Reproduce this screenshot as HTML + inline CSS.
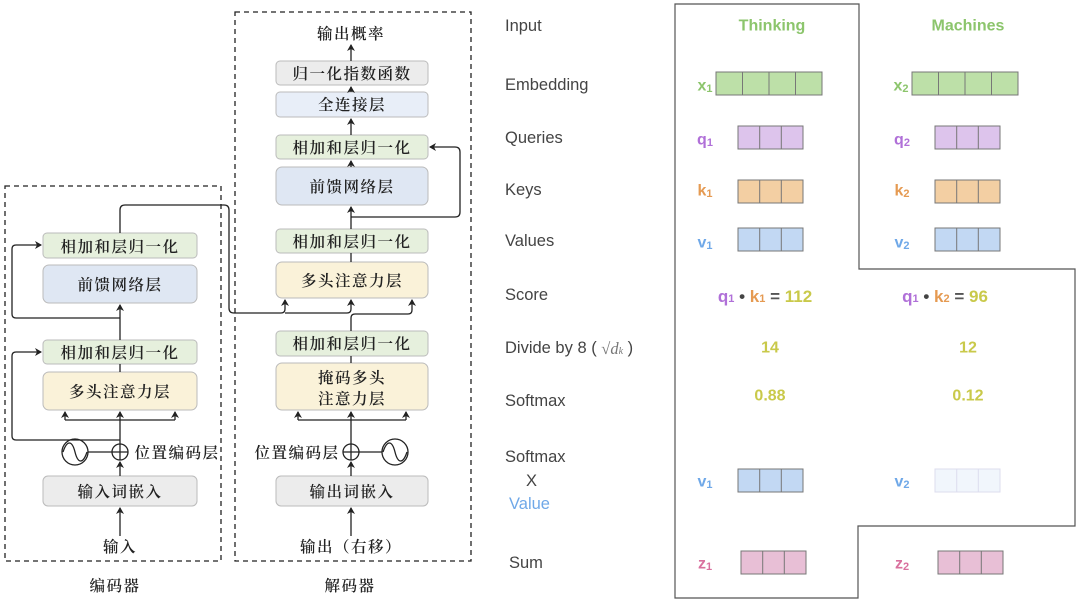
<!DOCTYPE html>
<html><head><meta charset="utf-8"><style>
html,body{margin:0;padding:0;background:#fff;}
svg{display:block}
.cn{font-family:"Noto Serif CJK SC","Liberation Serif",serif;font-size:15.5px;font-weight:600;letter-spacing:1.5px;fill:#222;text-anchor:middle;dominant-baseline:central}
.en{font-family:"Liberation Sans","DejaVu Sans",sans-serif;font-size:16.5px;fill:#444;dominant-baseline:central}
.b{font-family:"Liberation Sans",sans-serif;font-weight:bold;font-size:16px;dominant-baseline:central;text-anchor:middle}
</style></head><body>
<svg width="1080" height="605" viewBox="0 0 1080 605" xmlns="http://www.w3.org/2000/svg">
<defs><marker id="a" markerWidth="8" markerHeight="8" refX="6" refY="4" orient="auto" markerUnits="userSpaceOnUse"><path d="M0,0 L7,4 L0,8 L2,4z" fill="#222"/></marker></defs>
<g fill="none" stroke="#222" stroke-width="1.3" stroke-dasharray="5,4">
<rect x="5" y="186" width="216" height="375"/>
<rect x="235" y="12" width="236" height="549"/>
</g>
<g stroke="#bbb" stroke-width="1">
<rect x="43" y="233" width="154" height="25" rx="4" fill="#e6f0dd"/>
<rect x="43" y="265" width="154" height="38" rx="6" fill="#dfe7f3"/>
<rect x="43" y="340" width="154" height="24" rx="4" fill="#e6f0dd"/>
<rect x="43" y="372" width="154" height="38" rx="6" fill="#faf2d9"/>
<rect x="43" y="476" width="154" height="30" rx="5" fill="#ececec"/>
<rect x="276" y="61" width="152" height="24" rx="4" fill="#ececec"/>
<rect x="276" y="92" width="152" height="25" rx="4" fill="#e8eef8"/>
<rect x="276" y="135" width="152" height="24" rx="4" fill="#e6f0dd"/>
<rect x="276" y="167" width="152" height="38" rx="6" fill="#dfe7f3"/>
<rect x="276" y="229" width="152" height="24" rx="4" fill="#e6f0dd"/>
<rect x="276" y="262" width="152" height="36" rx="6" fill="#faf2d9"/>
<rect x="276" y="331" width="152" height="25" rx="4" fill="#e6f0dd"/>
<rect x="276" y="363" width="152" height="47" rx="6" fill="#faf2d9"/>
<rect x="276" y="476" width="152" height="30" rx="5" fill="#ececec"/>
</g>
<g class="cn">
<text x="120" y="246">相加和层归一化</text>
<text x="120" y="284">前馈网络层</text>
<text x="120" y="352">相加和层归一化</text>
<text x="120" y="391">多头注意力层</text>
<text x="120" y="491">输入词嵌入</text>
<text x="120" y="546">输入</text>
<text x="115" y="585">编码器</text>
<text x="177" y="452">位置编码层</text>
<text x="351" y="33">输出概率</text>
<text x="352" y="73">归一化指数函数</text>
<text x="352" y="104">全连接层</text>
<text x="352" y="147">相加和层归一化</text>
<text x="352" y="186">前馈网络层</text>
<text x="352" y="241">相加和层归一化</text>
<text x="352" y="280">多头注意力层</text>
<text x="352" y="343">相加和层归一化</text>
<text x="352" y="377">掩码多头</text>
<text x="352" y="398">注意力层</text>
<text x="352" y="491">输出词嵌入</text>
<text x="351" y="546">输出（右移）</text>
<text x="350" y="585">解码器</text>
<text x="297" y="452">位置编码层</text>
</g>
<g fill="none" stroke="#222" stroke-width="1.3">
<path d="M120,536 V508" marker-end="url(#a)"/>
<path d="M120,476 V462" marker-end="url(#a)"/>
<circle cx="120" cy="452" r="8"/><path d="M112,452H128M120,444V460"/>
<circle cx="75" cy="452" r="13"/><path d="M63,452 C67,440 72,440 75,452 C78,464 83,464 87,452"/>
<path d="M88,452H112"/>
<path d="M120,444 V412" marker-end="url(#a)"/>
<path d="M120,440 H16 Q12,440 12,436 V356 Q12,352 16,352 H41" marker-end="url(#a)"/>
<path d="M65,420 H175"/>
<path d="M65,420 V412" marker-end="url(#a)"/><path d="M175,420 V412" marker-end="url(#a)"/>
<path d="M120,372 V364"/>
<path d="M120,340 V305" marker-end="url(#a)"/>
<path d="M120,318 H16 Q12,318 12,314 V249 Q12,245 16,245 H41" marker-end="url(#a)"/>
<path d="M120,233 V210 Q120,205 125,205 H224 Q229,205 229,210 V308 Q229,313 234,313 H281 Q285,313 285,309 V300" marker-end="url(#a)"/>
<path d="M285,313 H347 Q351,313 351,309 V300" marker-end="url(#a)"/>
<path d="M351,536 V508" marker-end="url(#a)"/>
<path d="M351,476 V462" marker-end="url(#a)"/>
<circle cx="351" cy="452" r="8"/><path d="M343,452H359M351,444V460"/>
<circle cx="395" cy="452" r="13"/><path d="M383,452 C387,440 392,440 395,452 C398,464 403,464 407,452"/>
<path d="M359,452H382"/>
<path d="M351,444 V412" marker-end="url(#a)"/>
<path d="M298,420 H406"/>
<path d="M298,420 V412" marker-end="url(#a)"/><path d="M406,420 V412" marker-end="url(#a)"/>
<path d="M351,363 V356"/>
<path d="M351,331 V318 Q351,314 355,314 H408 Q412,314 412,310 V300" marker-end="url(#a)"/>
<path d="M351,262 V253"/>
<path d="M351,229 V207" marker-end="url(#a)"/>
<path d="M351,217 H455 Q460,217 460,212 V152 Q460,147 455,147 H430" marker-end="url(#a)"/>
<path d="M351,167 V161" marker-end="url(#a)"/>
<path d="M351,135 V119" marker-end="url(#a)"/>
<path d="M351,92 V87" marker-end="url(#a)"/>
<path d="M351,61 V45" marker-end="url(#a)"/>
</g>
<path d="M675,4 H859 V269 H1075 V526 H858 V598 H675 Z" fill="none" stroke="#555" stroke-width="1.2"/>
<g class="en">
<text x="505" y="26">Input</text>
<text x="505" y="85">Embedding</text>
<text x="505" y="138">Queries</text>
<text x="505" y="190">Keys</text>
<text x="505" y="241">Values</text>
<text x="505" y="295">Score</text>
<text x="505" y="348">Divide by 8 ( <tspan font-family="Liberation Serif" font-style="italic" fill="#777">√d<tspan font-size="10" dy="3">k</tspan></tspan><tspan dy="-3">  )</tspan></text>
<text x="505" y="401">Softmax</text>
<text x="505" y="457">Softmax</text>
<text x="526" y="481">X</text>
<text x="509" y="504" fill="#6fa8e8">Value</text>
<text x="509" y="563">Sum</text>
</g>
<g class="b">
<text x="772" y="26" fill="#8cc56c">Thinking</text>
<text x="968" y="26" fill="#8cc56c">Machines</text>
<text x="705" y="86" fill="#8cc56c">x<tspan font-size="11" dy="3">1</tspan></text>
<text x="901" y="86" fill="#8cc56c">x<tspan font-size="11" dy="3">2</tspan></text>
<text x="705" y="140" fill="#b070d8">q<tspan font-size="11" dy="3">1</tspan></text>
<text x="902" y="140" fill="#b070d8">q<tspan font-size="11" dy="3">2</tspan></text>
<text x="705" y="191" fill="#e59a52">k<tspan font-size="11" dy="3">1</tspan></text>
<text x="902" y="191" fill="#e59a52">k<tspan font-size="11" dy="3">2</tspan></text>
<text x="705" y="243" fill="#6fa8e8">v<tspan font-size="11" dy="3">1</tspan></text>
<text x="902" y="243" fill="#6fa8e8">v<tspan font-size="11" dy="3">2</tspan></text>
<text x="705" y="482" fill="#6fa8e8">v<tspan font-size="11" dy="3">1</tspan></text>
<text x="902" y="482" fill="#6fa8e8">v<tspan font-size="11" dy="3">2</tspan></text>
<text x="705" y="564" fill="#d9709e">z<tspan font-size="11" dy="3">1</tspan></text>
<text x="902" y="564" fill="#d9709e">z<tspan font-size="11" dy="3">2</tspan></text>
<text x="765" y="296" font-size="17"><tspan fill="#b070d8">q<tspan font-size="11" dy="3">1</tspan></tspan><tspan dy="-3" fill="#444"> • </tspan><tspan fill="#e59a52">k<tspan font-size="11" dy="3">1</tspan></tspan><tspan dy="-3" fill="#555"> = </tspan><tspan fill="#c9c94a">112</tspan></text>
<text x="945" y="296" font-size="17"><tspan fill="#b070d8">q<tspan font-size="11" dy="3">1</tspan></tspan><tspan dy="-3" fill="#444"> • </tspan><tspan fill="#e59a52">k<tspan font-size="11" dy="3">2</tspan></tspan><tspan dy="-3" fill="#555"> = </tspan><tspan fill="#c9c94a">96</tspan></text>
<text x="770" y="348" fill="#c9c94a">14</text>
<text x="968" y="348" fill="#c9c94a">12</text>
<text x="770" y="396" fill="#c9c94a">0.88</text>
<text x="968" y="396" fill="#c9c94a">0.12</text>
</g>
<g stroke="#777" stroke-width="1">
<g fill="#bde0a8"><rect x="716" y="72" width="106" height="23"/><path d="M742.5,72V95M769,72V95M795.5,72V95"/>
<rect x="912" y="72" width="106" height="23"/><path d="M938.5,72V95M965,72V95M991.5,72V95"/></g>
<g fill="#ddc4ec"><rect x="738" y="126" width="65" height="23"/><path d="M759.7,126V149M781.3,126V149"/>
<rect x="935" y="126" width="65" height="23"/><path d="M956.7,126V149M978.3,126V149"/></g>
<g fill="#f3cfa3"><rect x="738" y="180" width="65" height="23"/><path d="M759.7,180V203M781.3,180V203"/>
<rect x="935" y="180" width="65" height="23"/><path d="M956.7,180V203M978.3,180V203"/></g>
<g fill="#c2d8f3"><rect x="738" y="228" width="65" height="23"/><path d="M759.7,228V251M781.3,228V251"/>
<rect x="935" y="228" width="65" height="23"/><path d="M956.7,228V251M978.3,228V251"/>
<rect x="738" y="469" width="65" height="23"/><path d="M759.7,469V492M781.3,469V492"/></g>
<g fill="#f1f6fc" stroke="#dde"><rect x="935" y="469" width="65" height="23"/><path d="M956.7,469V492M978.3,469V492"/></g>
<g fill="#e8bfd6"><rect x="741" y="551" width="65" height="23"/><path d="M762.7,551V574M784.3,551V574"/>
<rect x="938" y="551" width="65" height="23"/><path d="M959.7,551V574M981.3,551V574"/></g>
</g>
</svg>
</body></html>
